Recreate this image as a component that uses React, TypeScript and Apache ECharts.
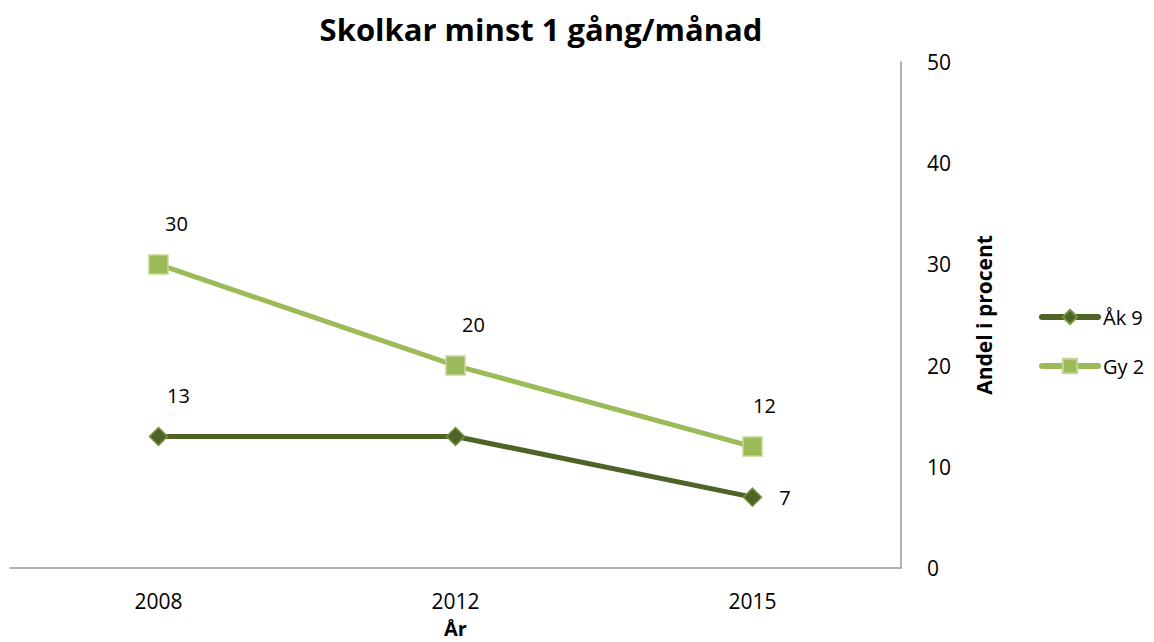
import React, { useEffect, useRef } from "react";
import * as echarts from "echarts";

const years = ["2008", "2012", "2015"];
const ak9 = [13, 13, 7];
const gy2 = [30, 20, 12];
const yTicks = [0, 10, 20, 30, 40, 50];

export default function App() {
  const ref = useRef<HTMLDivElement>(null);
  useEffect(() => {
    const chart = echarts.init(ref.current!, null, { renderer: "svg" });
    const font = "'Open Sans', 'Liberation Sans', sans-serif";
    chart.setOption({
      animation: false,
      textStyle: { fontFamily: font },
      title: {
        text: "Skolkar minst 1 gång/månad",
        left: 536,
        textAlign: "center",
        top: 8,
        textStyle: { fontSize: 31, fontWeight: "bold", color: "#000", fontFamily: font },
      },
      grid: { left: 10, right: 253, top: 62, bottom: 74, outerBoundsMode: "none", containLabel: false },
      legend: {
        orient: "vertical",
        left: 1034,
        top: 302,
        itemGap: 29,
        itemWidth: 56,
        itemHeight: 18,
        lineStyle: { width: 6, cap: "round" },
        textStyle: { fontSize: 20, color: "#000", fontFamily: font, padding: [0, 0, 0, 0] },
        data: ["Åk 9", "Gy 2"],
      },
      xAxis: {
        type: "category",
        data: years,
        boundaryGap: true,
        name: "År",
        nameLocation: "middle",
        nameGap: 50,
        nameTextStyle: { fontSize: 20, fontWeight: "bold", color: "#000" },
        axisLine: { lineStyle: { color: "#999", width: 1.5 } },
        axisTick: { show: false },
        axisLabel: { fontSize: 21, color: "#000", margin: 22 },
      },
      yAxis: {
        type: "value",
        position: "right",
        min: yTicks[0],
        max: yTicks[yTicks.length - 1],
        interval: 10,
        name: "Andel i procent",
        nameLocation: "middle",
        nameRotate: 90,
        nameGap: 72,
        nameTextStyle: { fontSize: 21, fontWeight: "bold", color: "#000" },
        axisLine: { show: true, lineStyle: { color: "#999", width: 1.5 } },
        axisTick: { show: false },
        splitLine: { show: false },
        axisLabel: { fontSize: 21, color: "#000", margin: 26 },
      },
      series: [
        {
          name: "Åk 9",
          type: "line",
          data: ak9.map((v, i) =>
            i === 2
              ? { value: v, label: { position: "right", offset: [12, 0] } }
              : i === 1
              ? { value: v, label: { show: false } }
              : v
          ),
          symbol: "diamond",
          symbolSize: 18,
          lineStyle: { color: "#4f6228", width: 5 },
          itemStyle: { color: "#4f6228", borderColor: "#77933c", borderWidth: 1.5 },
          label: {
            show: true,
            position: "top",
            offset: [20, -16],
            fontSize: 20,
            color: "#000",
          },
          z: 2,
        },
        {
          name: "Gy 2",
          type: "line",
          data: gy2.map((v, i) =>
            i === 2 ? { value: v, label: { offset: [12, -16] } } : v
          ),
          symbol: "rect",
          symbolSize: 19,
          lineStyle: { color: "#9bbb59", width: 5 },
          itemStyle: { color: "#9bbb59", borderColor: "#c3d69b", borderWidth: 1.5 },
          label: {
            show: true,
            position: "top",
            offset: [18, -16],
            fontSize: 20,
            color: "#000",
          },
          z: 3,
        },
      ],
    });
    return () => chart.dispose();
  }, []);
  return <div ref={ref} style={{ width: 1154, height: 642, position: "absolute", left: 0, top: 0 }} />;
}
